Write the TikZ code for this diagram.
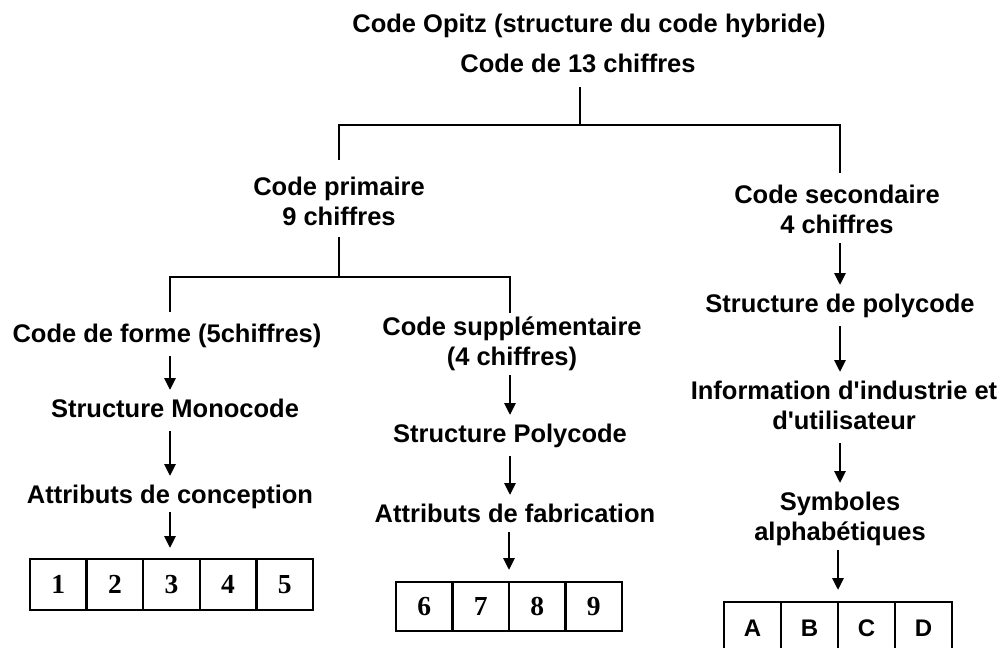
\documentclass[tikz,border=0pt]{standalone}
\usepackage{fontspec}
\newfontfamily\labfont{Liberation Sans}
\newfontfamily\digitfont{Liberation Serif}
\usetikzlibrary{arrows.meta,positioning}
\newcommand\mylines[1]{\begin{tabular}[t]{@{}c@{}}#1\end{tabular}}
\begin{document}
\begin{tikzpicture}[x=1pt,y=-1pt,
  lbl/.style={inner sep=0pt,outer sep=0pt,anchor=base,font={\labfont\fontsize{25.5}{30}\selectfont\bfseries}},
  ln/.style={line width=2.5pt},
  arr/.style={line width=2.8pt,-{Triangle[width=11pt,length=12pt]},shorten <=5pt,shorten >=6pt},
  cell/.style={draw,line width=2.5pt,inner sep=0pt,outer sep=0pt},
  dcell/.style={cell,minimum width=56.6pt,minimum height=51pt,text height=18.5pt,text depth=0pt,font={\digitfont\fontsize{27.5}{30}\selectfont\bfseries}},
  mcell/.style={cell,minimum width=56.5pt,minimum height=49pt,text height=18.5pt,text depth=0pt,font={\digitfont\fontsize{27.5}{30}\selectfont\bfseries}},
  lcell/.style={cell,minimum width=57pt,minimum height=51pt,text height=17pt,text depth=0pt,font={\labfont\fontsize{24}{28}\selectfont\bfseries}}]
\path[use as bounding box,clip] (0,0) rectangle (1007,648);
\fill[white] (0,0) rectangle (1007,648);

% texts
\node[lbl] (t1) at (589,32) {\mylines{Code Opitz (structure du code hybride)}};
\node[lbl] (t2) at (578,72) {\mylines{Code de 13 chiffres}};
\node[lbl] (prim) at (339,195) {\mylines{Code primaire\\9 chiffres}};
\node[lbl] (sec) at (837,203) {\mylines{Code secondaire\\4 chiffres}};
\node[lbl] (forme) at (167,342) {\mylines{Code de forme (5chiffres)}};
\node[lbl] (supp) at (512,335) {\mylines{Code supplémentaire\\(4 chiffres)}};
\node[lbl] (mono) at (175,417) {\mylines{Structure Monocode}};
\node[lbl] (attc) at (170,503) {\mylines{Attributs de conception}};
\node[lbl] (spoly) at (510,442) {\mylines{Structure Polycode}};
\node[lbl] (attf) at (515,522) {\mylines{Attributs de fabrication}};
\node[lbl] (spc) at (840,312) {\mylines{Structure de polycode}};
\node[lbl] (info) at (844,399) {\mylines{Information d'industrie et\\d'utilisateur}};
\node[lbl] (sym) at (840,510) {\mylines{Symboles\\alphabétiques}};

% digit boxes
\node[dcell] (c1) at (58.3,584.5) {1};
\node[dcell,right=0pt of c1] (c2) {2};
\node[dcell,right=0pt of c2] (c3) {3};
\node[dcell,right=0pt of c3] (c4) {4};
\node[dcell,right=0pt of c4] (c5) {5};

\node[mcell] (c6) at (424.25,606.5) {6};
\node[mcell,right=0pt of c6] (c7) {7};
\node[mcell,right=0pt of c7] (c8) {8};
\node[mcell,right=0pt of c8] (c9) {9};

\node[lcell] (ca) at (752.5,627.5) {A};
\node[lcell,right=0pt of ca] (cb) {B};
\node[lcell,right=0pt of cb] (cc) {C};
\node[lcell,right=0pt of cc] (cd) {D};

% tree lines
\coordinate (j1) at (580,125);
\coordinate (j2) at (339,277);
\draw[ln,shorten <=6pt] (t2.south -| j1) -- (j1);
\draw[ln,shorten <=14pt,shorten >=9pt] (prim.north) |- (j1) -| (sec.north -| spc);
\draw[ln,shorten <=3pt] (prim.south) -- (j2);
\draw[ln,shorten <=9pt,shorten >=1pt] (forme.north -| attc) |- (j2) -| (supp.north -| spoly);

% arrows left
\draw[arr] (forme.south -| attc) -- (mono.north -| attc);
\draw[arr] (mono.south -| attc) -- (attc.north);
\draw[arr,shorten <=0pt,shorten >=11pt] (attc.south) -- (attc.south |- c3.north);
% arrows middle
\draw[arr,shorten <=1pt] (supp.south -| spoly) -- (spoly.north);
\draw[arr] (spoly.south) -- (attf.north -| spoly);
\draw[arr,shorten <=1pt,shorten >=12pt] (attf.south -| c7.north east) -- (c7.north east);
% arrows right
\draw[arr,shorten <=1pt] (sec.south -| spc) -- (spc.north);
\draw[arr] (spc.south) -- (info.north -| spc);
\draw[arr] (info.south -| spc) -- (sym.north -| spc);
\draw[arr,shorten <=1pt,shorten >=12pt] (sym.south -| cb.north east) -- (cb.north east);
\end{tikzpicture}
\end{document}
